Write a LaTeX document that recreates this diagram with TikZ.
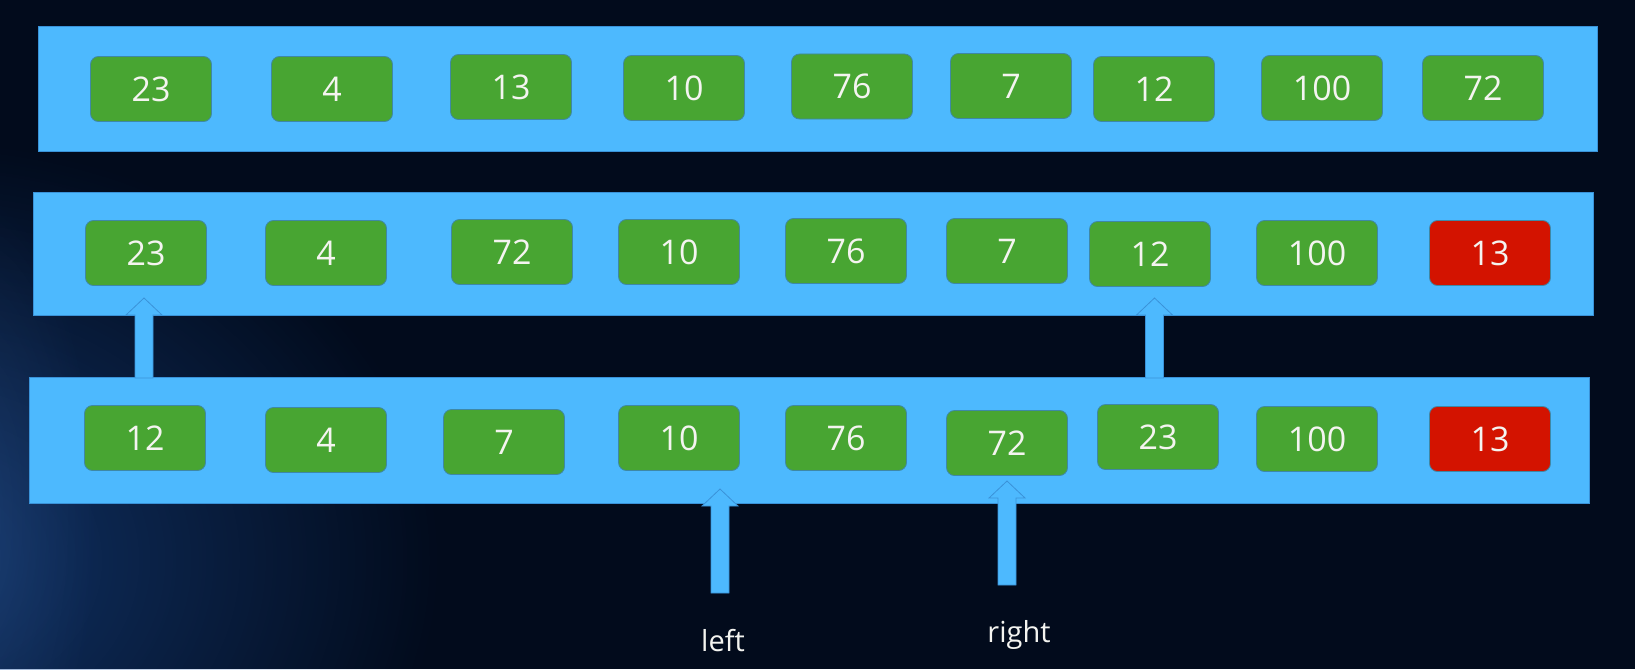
\documentclass[tikz,border=0pt]{standalone}
\usepackage{fontspec}
\setmainfont{Open Sans}
\usetikzlibrary{fadings}
\definecolor{bg}{HTML}{020B1C}
\definecolor{glowblue}{HTML}{1E56A8}
\definecolor{barblue}{HTML}{4DB9FE}
\definecolor{barline}{HTML}{3A92D8}
\definecolor{boxgreen}{HTML}{48A532}
\definecolor{boxred}{HTML}{D31300}
\definecolor{boxline}{HTML}{3E88A6}
\definecolor{txt}{HTML}{F4F4F0}
\tikzfading[name=softglow, inner color=transparent!45, outer color=transparent!100]
\tikzset{
  bar/.style={rectangle, fill=barblue, draw=barline, line width=0.8pt, inner sep=0pt},
  cell/.style={rectangle, rounded corners=8pt, fill=boxgreen, draw=boxline, line width=0.8pt,
    minimum width=121pt, minimum height=65pt, inner sep=0pt, text=txt,
    font=\fontsize{34}{40}\selectfont},
  hot/.style={cell, fill=boxred},
  blockarr/.style={fill=barblue, draw=barline, line width=0.8pt, line join=miter},
  ptrlabel/.style={text=txt, font=\fontsize{29}{34}\selectfont, inner sep=0pt, anchor=base}
}
\newcommand{\blockarrow}[4]{% name, x, tip y, bottom y
  \coordinate (#1tip) at (#2,#3);
  \coordinate (#1foot) at (#2,#4);
  \filldraw[blockarr] (#1tip) -- ({#2+18},{#3+17}) -- ({#2+9},{#3+17}) -- ({#2+9},#4)
    -- ({#2-9},#4) -- ({#2-9},{#3+17}) -- ({#2-18},{#3+17}) -- cycle;
}
\begin{document}
\begin{tikzpicture}[x=1pt,y=-1pt]
\fill[bg] (0,0) rectangle (1635,669);
\useasboundingbox (0,0) rectangle (1635,669);
\begin{scope}
  \clip (0,0) rectangle (1635,669);
  \fill[glowblue, path fading=softglow] (-80,560) ellipse [x radius=520pt, y radius=420pt];
  \fill[glowblue!80!white, path fading=softglow, opacity=0.35] (-30,520) ellipse [x radius=130pt, y radius=330pt];
\end{scope}

% bars
\node[bar, minimum width=1559pt, minimum height=125pt] (bar1) at (817.5,88.5) {};
\node[bar, minimum width=1560pt, minimum height=123pt] (bar2) at (813,253.5) {};
\node[bar, minimum width=1560pt, minimum height=126pt] (bar3) at (809,440) {};

% row 1
\node[cell] (r1a) at (151,89) {23};
\node[cell] (r1b) at (332,89) {4};
\node[cell] (r1c) at (511,87) {13};
\node[cell] (r1d) at (684,88) {10};
\node[cell] (r1e) at (852,86.5) {76};
\node[cell] (r1f) at (1011,86) {7};
\node[cell] (r1g) at (1154,89) {12};
\node[cell] (r1h) at (1322,88) {100};
\node[cell] (r1i) at (1483,88) {72};

% row 2
\node[cell] (r2a) at (146,253) {23};
\node[cell] (r2b) at (326,253) {4};
\node[cell] (r2c) at (512,252) {72};
\node[cell] (r2d) at (679,252) {10};
\node[cell] (r2e) at (846,251) {76};
\node[cell] (r2f) at (1007,251) {7};
\node[cell] (r2g) at (1150,254) {12};
\node[cell] (r2h) at (1317,253) {100};
\node[hot]  (r2i) at (1490,253) {13};

% row 3
\node[cell] (r3a) at (145,438) {12};
\node[cell] (r3b) at (326,440) {4};
\node[cell] (r3c) at (504,442) {7};
\node[cell] (r3d) at (679,438) {10};
\node[cell] (r3e) at (846,438) {76};
\node[cell] (r3f) at (1007,443) {72};
\node[cell] (r3g) at (1158,437) {23};
\node[cell] (r3h) at (1317,439) {100};
\node[hot]  (r3i) at (1490,439) {13};

% arrows
\blockarrow{swapA}{144}{298}{378}
\blockarrow{swapB}{1154.5}{298}{378}
\blockarrow{lp}{720}{489}{593}
\blockarrow{rp}{1007}{481}{585}

% labels
\node[ptrlabel] (leftlbl) at (723,651) {left};
\node[ptrlabel] (rightlbl) at (1019,642) {right};
\end{tikzpicture}
\end{document}
